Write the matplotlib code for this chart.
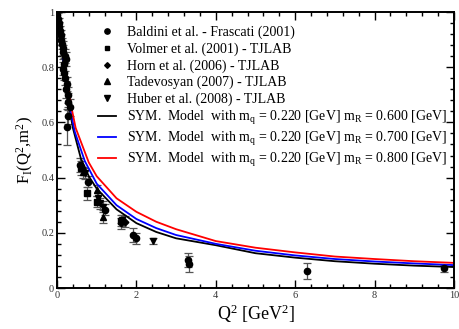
import numpy as np
import matplotlib; matplotlib.use("Agg")
import matplotlib.pyplot as plt
from matplotlib.ticker import MultipleLocator

plt.rcParams['font.family'] = ['Liberation Serif', 'DejaVu Serif']
plt.rcParams['mathtext.fontset'] = 'custom'
plt.rcParams['mathtext.rm'] = 'Liberation Serif'
plt.rcParams['mathtext.it'] = 'Liberation Serif:italic'

# ---- data ----
bal_q2 = [0.01, 0.02, 0.04, 0.05, 0.07, 0.09, 0.10, 0.12, 0.14, 0.16, 0.19, 0.22,
          0.18, 0.15, 0.17, 0.20, 0.25, 0.22, 0.27, 0.28, 0.33, 0.28, 0.26,
          0.58, 0.79, 1.21, 1.92, 1.99, 3.31, 3.33, 6.29, 9.75]
bal_f = [0.99, 0.975, 0.96, 0.945, 0.93, 0.915, 0.90, 0.885, 0.87, 0.855, 0.84, 0.83,
         0.81, 0.795, 0.78, 0.76, 0.74, 0.72, 0.70, 0.675, 0.655, 0.625, 0.584,
         0.446, 0.385, 0.283, 0.192, 0.180, 0.101, 0.087, 0.062, 0.071]
bal_e = [0.02, 0.02, 0.02, 0.02, 0.02, 0.02, 0.02, 0.02, 0.025, 0.025, 0.025, 0.025,
         0.025, 0.025, 0.025, 0.025, 0.025, 0.03, 0.03, 0.03, 0.03, 0.03, 0.065,
         0.025, 0.02, 0.02, 0.025, 0.02, 0.025, 0.03, 0.03, 0.013]

vol_q2 = [0.60, 0.75, 1.00, 1.60]
vol_f = [0.434, 0.343, 0.313, 0.243]
vol_e = [0.025, 0.024, 0.02, 0.02]

horn_q2 = [1.60, 1.72]
horn_f = [0.235, 0.240]
horn_e = [0.02, 0.02]

tad_q2 = [0.66, 1.00, 1.17]
tad_f = [0.420, 0.355, 0.258]
tad_e = [0.02, 0.02, 0.024]

hub_q2 = [0.71, 1.04, 1.08, 1.17, 1.63, 2.43]
hub_f = [0.415, 0.325, 0.307, 0.295, 0.246, 0.171]
hub_e = [0.02, 0.02, 0.02, 0.02, 0.02, 0.01]

m600_q2 = [0, 0.05, 0.10, 0.20, 0.30, 0.40, 0.60, 0.80, 1.0, 1.5, 2.0, 2.5, 3.0, 4.0, 5.0, 6.0, 7.0, 8.0, 9.0, 10.0]
m600_f = [1.0, 0.94, 0.886, 0.765, 0.66, 0.58, 0.47, 0.405, 0.36, 0.285, 0.235, 0.203, 0.18, 0.155, 0.126, 0.110, 0.097, 0.088, 0.081, 0.076]

m700_q2 = [0, 0.05, 0.11, 0.22, 0.33, 0.45, 0.70, 1.0, 1.5, 2.0, 2.5, 3.0, 4.0, 5.0, 6.0, 7.0, 8.0, 9.0, 10.0]
m700_f = [1.0, 0.945, 0.886, 0.765, 0.65, 0.565, 0.46, 0.378, 0.30, 0.25, 0.217, 0.192, 0.16, 0.135, 0.118, 0.105, 0.096, 0.089, 0.083]

m800_q2 = [0, 0.06, 0.13, 0.24, 0.37, 0.47, 0.80, 1.0, 1.5, 2.0, 2.5, 3.0, 4.0, 5.0, 6.0, 7.0, 8.0, 9.0, 10.0]
m800_f = [1.0, 0.945, 0.886, 0.765, 0.65, 0.58, 0.455, 0.405, 0.325, 0.276, 0.24, 0.213, 0.17, 0.146, 0.129, 0.114, 0.105, 0.097, 0.091]

data_labels = ["Baldini et al. - Frascati (2001)", "Volmer et al. (2001) - TJLAB",
               "Horn et al. (2006) - TJLAB", "Tadevosyan (2007) - TJLAB", "Huber et al. (2008) - TJLAB"]
model_labels = [r"SYM.  Model  with m$_\mathrm{q}$ = 0.220 [GeV] m$_\mathrm{R}$ = %s [GeV]" % m
                for m in ("0.600", "0.700", "0.800")]

x_ticks = [0, 2, 4, 6, 8, 10]
x_labels = ["0", "2", "4", "6", "8", "10"]
y_ticks = [0, 0.2, 0.4, 0.6, 0.8, 1.0]
y_labels = ["0", "0.2", "0.4", "0.6", "0.8", "1"]

fig = plt.figure(figsize=(4.59, 3.29), dpi=100)
ax = fig.add_axes([57/459, 41/329, 397/459, 276/329])

eb = dict(ls="none", color="k", ecolor="#555555", elinewidth=0.9, capsize=2.6, capthick=0.9)
sets = [(bal_q2, bal_f, bal_e, "o", 4.5), (vol_q2, vol_f, vol_e, "s", 3.8),
        (horn_q2, horn_f, horn_e, "D", 3.4), (tad_q2, tad_f, tad_e, "^", 4.5),
        (hub_q2, hub_f, hub_e, "v", 4.5)]
hs = []
for (q, f, e, mk, ms), lab in zip(sets, data_labels):
    c = ax.errorbar(q, f, yerr=e, marker=mk, ms=ms, **eb)
    c[0].set_label(lab)
    hs.append(c[0])

for q, f, col, lab in zip((m600_q2, m700_q2, m800_q2), (m600_f, m700_f, m800_f),
                          ("k", "#0000ff", "#ff0000"), model_labels):
    hs += ax.plot(q, f, color=col, lw=1.3, label=lab)

ax.set_xlim(0, 10); ax.set_ylim(0, 1)
ax.set_xticks(x_ticks); ax.set_xticklabels(x_labels)
ax.set_yticks(y_ticks); ax.set_yticklabels(y_labels)
ax.xaxis.set_minor_locator(MultipleLocator(0.4))
ax.yaxis.set_minor_locator(MultipleLocator(0.04))
ax.tick_params(which="both", direction="in", top=True, right=True, labelsize=7.5, labelcolor="#333333", width=1)
ax.tick_params(which="major", length=6, pad=2)
ax.tick_params(which="minor", length=3)
for s in ax.spines.values():
    s.set_linewidth(1.4)

ax.set_xlabel(r"Q$^2$ [GeV$^2$]", fontsize=13, labelpad=2)
ax.set_ylabel(r"F$_\mathrm{I}$(Q$^2$,m$^2$)", fontsize=12, labelpad=4)

ax.legend(handles=hs, loc="upper left", bbox_to_anchor=(98/459, 1 - 26/329), bbox_transform=fig.transFigure,
          frameon=False, fontsize=10, handlelength=1.3, handletextpad=0.8, labelspacing=0.22,
          markerscale=0.85, borderpad=0, borderaxespad=0)

fig.savefig("out.png", dpi=100)
